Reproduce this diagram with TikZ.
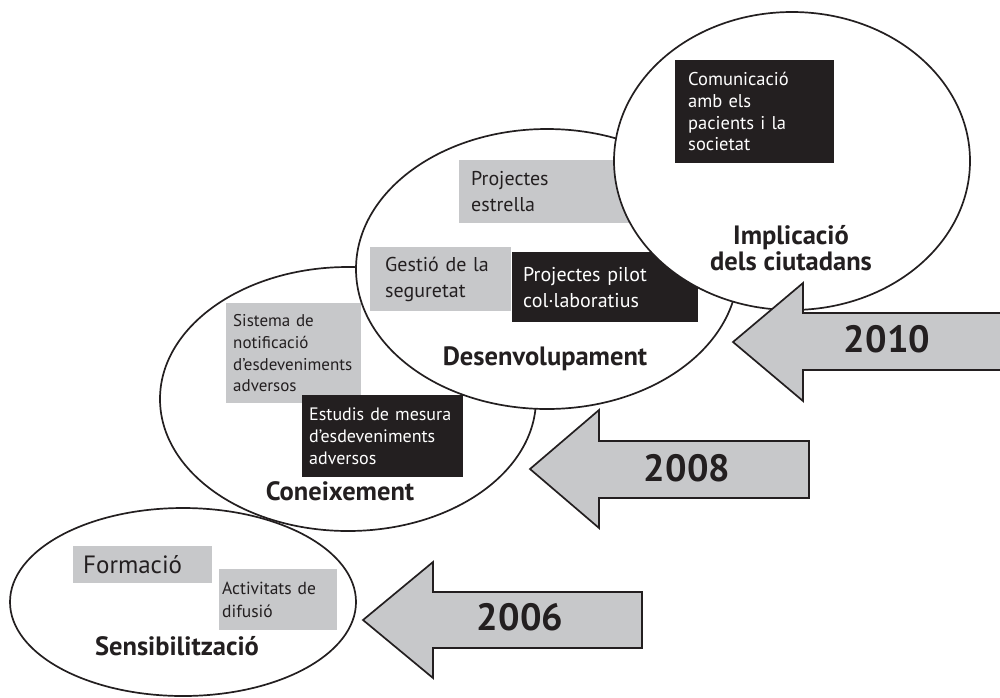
\documentclass[tikz,border=0pt]{standalone}
\usepackage{fontspec}
\setmainfont{PT Sans}
\usetikzlibrary{shapes.geometric}

\definecolor{grisclar}{HTML}{C7C8CA}
\definecolor{negre}{HTML}{231F20}

\tikzset{
  etapa/.style={ellipse, draw=negre, line width=1.7pt, inner sep=0pt},
  caixa/.style={anchor=north west, align=left, inner ysep=0pt, text=negre},
  caixagris/.style={caixa, fill=grisclar},
  caixanegra/.style={caixa, fill=negre, text=white},
  petita/.style={font=\fontsize{17pt}{21.7pt}\selectfont},
  mitjana/.style={font=\fontsize{20pt}{26pt}\selectfont},
  titol/.style={anchor=base, text=negre, font=\bfseries\fontsize{26.5pt}{26pt}\selectfont},
  anylabel/.style={anchor=base, text=negre, font=\bfseries\fontsize{38pt}{40pt}\selectfont},
  fletxa/.style={draw=negre, fill=grisclar, line width=1.7pt, line join=miter},
}

\begin{document}
\begin{tikzpicture}[x=1pt,y=-1pt]
  \useasboundingbox (0,0) rectangle (1000,697);
  \clip (0,0) rectangle (1000,697);

  % Coneixement
  \node[etapa, minimum width=376pt, minimum height=264pt] (conei) at (348,399) {};
  \node[caixagris, petita, inner xsep=7pt, text width=121pt, minimum height=100pt] (sistema) at (226,303)
    {Sistema~de\\notificació\\d’esdeveniments\\adversos};
  \node[caixanegra, font=\fontsize{18pt}{22pt}\selectfont, inner xsep=7pt, text width=147pt, minimum height=82pt] (estudis) at (302,395)
    {Estudis~de~mesura\\d’esdeveniments\\adversos};
  \node[titol] (tconei) at (340,500) {Coneixement};

  % Desenvolupament
  \node[etapa, fill=white, minimum width=382pt, minimum height=280pt] (desen) at (547,269) {};
  \node[caixagris, mitjana, inner xsep=12pt, text width=197pt, minimum height=63pt] (estrella) at (459,160)
    {Projectes\\estrella};
  \node[caixagris, mitjana, inner xsep=15pt, text width=111pt, minimum height=64pt] (gestio) at (370,247)
    {Gestió~de~la\\seguretat};
  \node[caixanegra, mitjana, inner xsep=11pt, text width=164pt, minimum height=70pt] (pilot) at (512,252)
    {Projectes~pilot\\col·laboratius};
  \node[titol] (tdesen) at (545,365) {Desenvolupament};

  % Implicacio
  \node[etapa, fill=white, minimum width=356pt, minimum height=298pt] (impli) at (792,161) {};
  \node[caixanegra, font=\fontsize{18.5pt}{21.7pt}\selectfont, inner xsep=13pt, text width=133pt, minimum height=103pt] (comunica) at (675,60)
    {Comunicació\\amb~els\\pacients~i~la\\societat};
  \node[titol, anchor=center, align=center] (timpli) at (791,248) {Implicació\\dels ciutadans};

  % Sensibilitzacio
  \node[etapa, minimum width=346pt, minimum height=188pt] (sensib) at (183,602) {};
  \node[caixagris, font=\fontsize{25pt}{28pt}\selectfont, inner xsep=10pt, text width=119pt, minimum height=37pt] (formacio) at (73,546)
    {Formació};
  \node[caixagris, font=\fontsize{17.5pt}{23pt}\selectfont, inner xsep=3pt, text width=112pt, minimum height=61pt] (difusio) at (219,569)
    {Activitats~de\\difusió};
  \node[titol] (tsensib) at (177,655) {Sensibilització};

  % anys
  \draw[fletxa] (733,342) -- (803,283) -- (803,313) -- (1010,313) -- (1010,370) -- (803,370) -- (803,401) -- cycle;
  \node[anylabel] (a2010) at (887,352) {2010};
  \draw[fletxa] (530,469) -- (599,410) -- (599,441) -- (809,441) -- (809,498) -- (599,498) -- (599,528) -- cycle;
  \node[anylabel] (a2008) at (687,481) {2008};
  \draw[fletxa] (363,620) -- (433,562) -- (433,592) -- (642,592) -- (642,648) -- (433,648) -- (433,678) -- cycle;
  \node[anylabel] (a2006) at (520,630) {2006};
\end{tikzpicture}
\end{document}
